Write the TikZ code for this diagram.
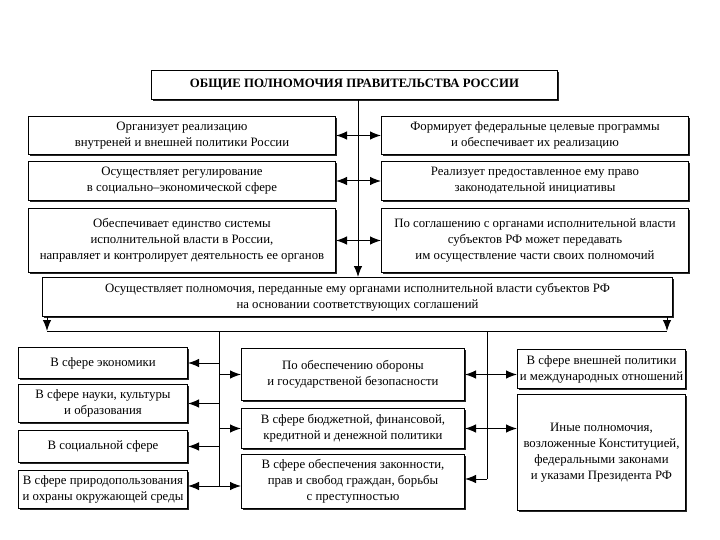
\documentclass[tikz,border=0pt]{standalone}
\usepackage{fontspec}
\setmainfont{Liberation Serif}
\usetikzlibrary{arrows.meta,calc,shadows}
\begin{document}
\begin{tikzpicture}[x=1pt,y=-1pt,
  box/.style={draw, fill=white, line width=1pt, anchor=north west, align=center, inner sep=1pt,
    font=\fontsize{12.8}{16}\selectfont,
    drop shadow={shadow xshift=1.2pt, shadow yshift=-1.2pt, fill=black!85, opacity=1}},
  arr/.style={-{Latex[length=11pt,width=8.5pt]}, line width=1pt},
  darr/.style={{Latex[length=11pt,width=8.5pt]}-{Latex[length=11pt,width=8.5pt]}, line width=1pt},
  ln/.style={line width=1pt}]
\useasboundingbox[fill=white] (0,0) rectangle (720,540);

% title
\node[box, minimum width=406pt, minimum height=29pt,
  font=\bfseries\fontsize{12.8}{15}\selectfont] (T) at (151,70)
  {ОБЩИЕ ПОЛНОМОЧИЯ ПРАВИТЕЛЬСТВА РОССИИ};

% upper rows
\node[box, minimum width=307pt, minimum height=38pt] (L1) at (28,116)
  {Организует реализацию\\внутреней и внешней политики России};
\node[box, minimum width=307pt, minimum height=38pt] (R1) at (381,116)
  {Формирует федеральные целевые программы\\и обеспечивает их реализацию};
\node[box, minimum width=307pt, minimum height=39pt] (L2) at (28,161)
  {Осуществляет регулирование\\в социально–экономической сфере};
\node[box, minimum width=307pt, minimum height=39pt] (R2) at (381,161)
  {Реализует предоставленное ему право\\законодательной инициативы};
\node[box, minimum width=307pt, minimum height=64pt] (L3) at (28,208)
  {Обеспечивает единство системы\\исполнительной власти в России,\\направляет и контролирует деятельность ее органов};
\node[box, minimum width=307pt, minimum height=64pt] (R3) at (381,208)
  {По соглашению с органами исполнительной власти\\субъектов РФ может передавать\\им осуществление части своих полномочий};

% wide box
\node[box, minimum width=630pt, minimum height=39pt] (W) at (42,277)
  {Осуществляет полномочия, переданные ему органами исполнительной власти субъектов РФ\\на основании соответствующих соглашений};

% trunk and upper arrows
\coordinate (tk) at (358,0);
\draw[arr] (T.south -| tk) -- (W.north -| tk);
\draw[darr] (L1.east) -- (L1.east -| R1.west);
\draw[darr] (L2.east) -- (L2.east -| R2.west);
\draw[darr] (L3.east) -- (L3.east -| R3.west);

% bus
\coordinate (bl) at (47,331);
\coordinate (br) at (667,331);
\draw[arr] (W.south -| bl) -- (bl);
\draw[arr] (W.south -| br) -- (br);
\draw[ln] (bl) -- (br);

% lower left column
\node[box, minimum width=169pt, minimum height=31pt] (BL1) at (18,347) {В сфере экономики};
\node[box, minimum width=169pt, minimum height=38pt] (BL2) at (18,384) {В сфере науки, культуры\\и образования};
\node[box, minimum width=169pt, minimum height=32pt] (BL3) at (18,430) {В социальной сфере};
\node[box, minimum width=169pt, minimum height=38pt] (BL4) at (18,470) {В сфере природопользования\\и охраны окружающей среды};

% lower centre column
\node[box, minimum width=223pt, minimum height=52pt] (C1) at (241,348) {По обеспечению обороны\\и государственой безопасности};
\node[box, minimum width=223pt, minimum height=40pt] (C2) at (241,408) {В сфере бюджетной, финансовой,\\кредитной и денежной политики};
\node[box, minimum width=223pt, minimum height=54pt] (C3) at (241,454) {В сфере обеспечения законности,\\прав и свобод граждан, борьбы\\с преступностью};

% lower right column
\node[box, minimum width=168pt, minimum height=39pt] (BR1) at (517,349) {В сфере внешней политики\\и международных отношений};
\node[box, minimum width=168pt, minimum height=116pt] (BR2) at (517,394) {Иные полномочия,\\возложенные Конституцией,\\федеральными законами\\и указами Президента РФ};

% left spine
\coordinate (sl) at (219,331);
\coordinate (j) at (219,486);
\draw[ln] (sl) -- (j);
\draw[arr] (BL1.east -| sl) -- (BL1.east);
\draw[arr] (BL2.east -| sl) -- (BL2.east);
\draw[arr] (BL3.east -| sl) -- (BL3.east);
\draw[arr] (j) -- (j -| BL4.east);
\draw[arr] (C1.west -| sl) -- (C1.west);
\draw[arr] (C2.west -| sl) -- (C2.west);
\draw[arr] (j) -- (j -| C3.west);

% right spine
\coordinate (sr) at (487,331);
\coordinate (k) at (487,479);
\draw[ln] (sr) -- (k);
\draw[arr] (k) -- (k -| C3.east);
\draw[darr] (C1.east) -- (C1.east -| BR1.west);
\draw[darr] (C2.east) -- (C2.east -| BR2.west);
\end{tikzpicture}
\end{document}
